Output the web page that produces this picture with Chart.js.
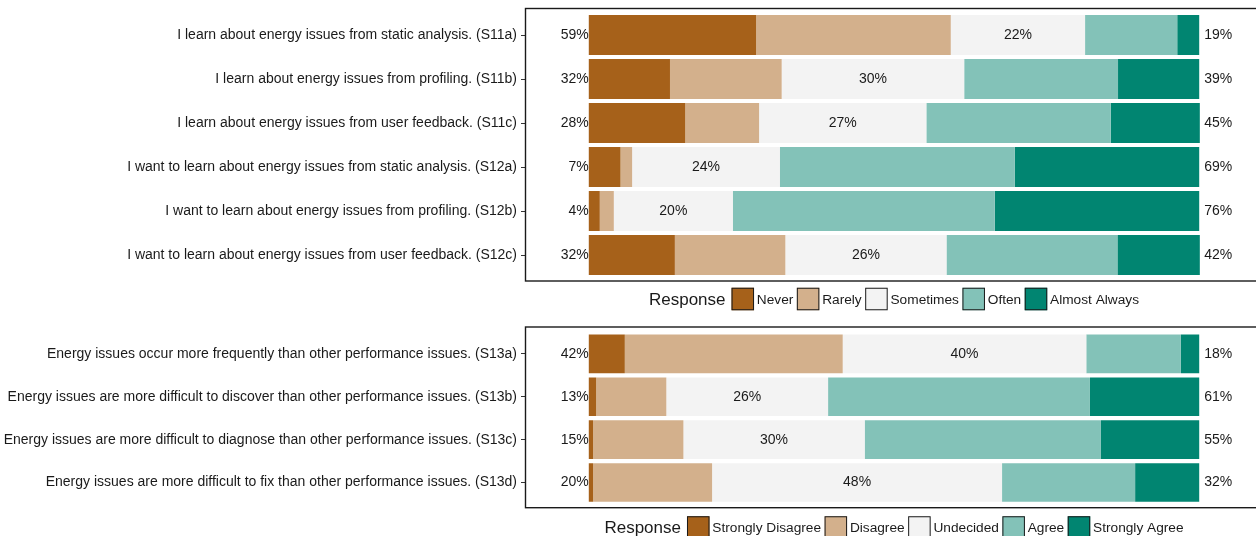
<!DOCTYPE html>
<html><head><meta charset="utf-8">
<script src="https://cdn.jsdelivr.net/npm/chart.js@4.4.1/dist/chart.umd.min.js"></script>
<style>
html,body{margin:0;padding:0;background:#fff;overflow:hidden;width:1256px;height:536px;}
canvas{position:absolute;left:0;}
#c1{top:0}
#c2{top:320px}
</style></head><body>
<canvas id="c1" width="1270" height="320"></canvas>
<canvas id="c2" width="1270" height="216"></canvas>
<script>
// ---------- Top panel (frequency scale) ----------
const topItems = [
  'I learn about energy issues from static analysis. (S11a)',
  'I learn about energy issues from profiling. (S11b)',
  'I learn about energy issues from user feedback. (S11c)',
  'I want to learn about energy issues from static analysis. (S12a)',
  'I want to learn about energy issues from profiling. (S12b)',
  'I want to learn about energy issues from user feedback. (S12c)'
];
const freqLevels = ['Never', 'Rarely', 'Sometimes', 'Often', 'Almost Always'];
const never     = [27.4, 13.3, 15.8, 5.2, 1.8, 14.1];
const rarely    = [31.9, 18.3, 12.1, 1.9, 2.3, 18.1];
const sometimes = [22.0, 29.9, 27.4, 24.2, 19.5, 26.4];
const often     = [15.1, 25.2, 30.2, 38.5, 42.9, 28.0];
const almostAlways = [3.6, 13.3, 14.6, 30.2, 33.5, 13.5];
const topLowPct  = ['59%', '32%', '28%', '7%', '4%', '32%'];
const topMidPct  = ['22%', '30%', '27%', '24%', '20%', '26%'];
const topHighPct = ['19%', '39%', '45%', '69%', '76%', '42%'];

// ---------- Bottom panel (agreement scale) ----------
const bottomItems = [
  'Energy issues occur more frequently than other performance issues. (S13a)',
  'Energy issues are more difficult to discover than other performance issues. (S13b)',
  'Energy issues are more difficult to diagnose than other performance issues. (S13c)',
  'Energy issues are more difficult to fix than other performance issues. (S13d)'
];
const agreeLevels = ['Strongly Disagree', 'Disagree', 'Undecided', 'Agree', 'Strongly Agree'];
const stronglyDisagree = [5.9, 1.2, 0.7, 0.7];
const disagree         = [35.7, 11.5, 14.8, 19.5];
const undecided        = [39.9, 26.5, 29.7, 47.5];
const agree            = [15.5, 42.9, 38.7, 21.8];
const stronglyAgree    = [3.0, 17.9, 16.1, 10.5];
const botLowPct  = ['42%', '13%', '15%', '20%'];
const botMidPct  = ['40%', '26%', '30%', '48%'];
const botHighPct = ['18%', '61%', '55%', '32%'];

const palette = ['#A6611A', '#D3B08C', '#F3F3F3', '#83C2B8', '#018571'];
const FONT = "'Liberation Sans', Arial, Helvetica, sans-serif";
const TEXT = '#1a1a1a';

function makeChart(canvasId, items, levels, series, lowPct, midPct, highPct, geo) {
  const datasets = levels.map((name, k) => ({
    label: name,
    data: series[k],
    backgroundColor: palette[k],
    borderWidth: 0,
    categoryPercentage: 1,
    barPercentage: geo.barPct
  }));

  const decor = {
    id: 'decor_' + canvasId,
    afterDatasetsDraw(chart) {
      const ctx = chart.ctx;
      const xs = chart.scales.x, ys = chart.scales.y;
      ctx.save();
      ctx.fillStyle = TEXT;
      ctx.font = '14px ' + FONT;
      ctx.textBaseline = 'middle';
      items.forEach((_, i) => {
        const y = ys.getPixelForValue(i);
        const low = series[0][i] + series[1][i];
        ctx.textAlign = 'right';
        ctx.fillText(lowPct[i], xs.getPixelForValue(0), y);
        ctx.textAlign = 'center';
        ctx.fillText(midPct[i], xs.getPixelForValue(low + series[2][i] / 2), y);
        ctx.textAlign = 'left';
        ctx.fillText(highPct[i], xs.getPixelForValue(100) + 5, y);
      });
      // panel border
      const a = chart.chartArea;
      ctx.strokeStyle = '#1a1a1a';
      ctx.lineWidth = 1.4;
      ctx.strokeRect(a.left + 0.5, geo.boxTop, chart.width + 10, geo.boxBottom - geo.boxTop);
      // legend
      const cx = (a.left + a.right) / 2;
      const ly = geo.legendY;
      const box = 22.5, gapBox = 2.8, gapItem = 3.5, gapTitle = 6;
      ctx.font = '17px ' + FONT;
      const titleW = ctx.measureText('Response').width;
      ctx.font = '13.7px ' + FONT;
      const widths = levels.map(l => ctx.measureText(l).width);
      let total = titleW + gapTitle;
      widths.forEach((w, k) => { total += box + gapBox + w + (k < widths.length - 1 ? gapItem : 0); });
      let x = cx - total / 2;
      ctx.textAlign = 'left';
      ctx.font = '17px ' + FONT;
      ctx.fillStyle = TEXT;
      ctx.fillText('Response', x, ly + 1);
      x += titleW + gapTitle;
      ctx.font = '13.7px ' + FONT;
      levels.forEach((l, k) => {
        ctx.fillStyle = palette[k];
        ctx.fillRect(x, ly - box / 2, box, box);
        ctx.strokeStyle = '#1a1a1a';
        ctx.lineWidth = 1;
        ctx.strokeRect(x + 0.5, ly - box / 2 + 0.5, box - 1, box - 1);
        x += box + gapBox;
        ctx.fillStyle = TEXT;
        ctx.fillText(l, x, ly + 1);
        x += widths[k] + gapItem;
      });
      ctx.restore();
    }
  };

  return new Chart(document.getElementById(canvasId), {
    type: 'bar',
    data: { labels: items, datasets },
    options: {
      indexAxis: 'y',
      responsive: false,
      animation: false,
      devicePixelRatio: 1,
      layout: { padding: { left: 0, right: 7, top: geo.padTop, bottom: geo.padBottom } },
      plugins: { legend: { display: false }, tooltip: { enabled: false } },
      scales: {
        x: { stacked: true, min: -10.45, max: 110.45, display: false },
        y: {
          stacked: true,
          afterFit(s) { s.width = 525; },
          ticks: { font: { family: FONT, size: 14 }, color: TEXT, padding: 4, autoSkip: false },
          grid: { offset: false, drawOnChartArea: false, drawTicks: true, tickLength: 4, color: '#333', lineWidth: 1 },
          border: { display: false }
        }
      }
    },
    plugins: [decor]
  });
}

makeChart('c1', topItems, freqLevels,
  [never, rarely, sometimes, often, almostAlways],
  topLowPct, topMidPct, topHighPct,
  { barPct: 40 / 44, padTop: 13, padBottom: 43, boxTop: 8.5, boxBottom: 281, legendY: 299 });

makeChart('c2', bottomItems, agreeLevels,
  [stronglyDisagree, disagree, undecided, agree, stronglyAgree],
  botLowPct, botMidPct, botHighPct,
  { barPct: 39 / 43.4, padTop: 10.4, padBottom: 32, boxTop: 7, boxBottom: 187.7, legendY: 207.5 });
</script>
</body></html>
